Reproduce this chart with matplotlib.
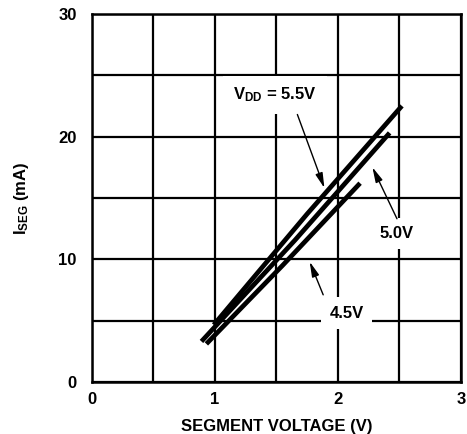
import matplotlib
matplotlib.use("Agg")
import matplotlib.pyplot as plt

plt.rcParams["font.family"] = "Liberation Sans"
plt.rcParams["font.weight"] = "bold"
plt.rcParams["axes.labelweight"] = "bold"
plt.rcParams["mathtext.fontset"] = "custom"
plt.rcParams["mathtext.rm"] = "Liberation Sans:bold"
plt.rcParams["mathtext.default"] = "rm"

# curves (segment voltage V, segment current mA)
v55_x = [0.99, 1.75, 2.52]
v55_y = [4.65, 13.7, 22.5]
v50_x = [0.89, 1.65, 2.42]
v50_y = [3.3, 11.55, 20.3]
v45_x = [0.93, 1.55, 2.18]
v45_y = [3.1, 9.5, 16.2]

x_ticks = [0, 0.5, 1, 1.5, 2, 2.5, 3]
x_labels = ["0", "", "1", "", "2", "", "3"]
y_ticks = [0, 5, 10, 15, 20, 25, 30]
y_labels = ["0", "", "10", "", "20", "", "30"]

fs = 12

fig = plt.figure(figsize=(4.67, 4.34), dpi=100)
ax = fig.add_axes([0.197, 0.12, 0.79, 0.848])

for xs, ys in [(v55_x, v55_y), (v50_x, v50_y), (v45_x, v45_y)]:
    ax.plot(xs, ys, color="black", lw=3.4, solid_capstyle="butt", zorder=3)

ax.set_xlim(0, 3)
ax.set_ylim(0, 30)
ax.set_xticks(x_ticks)
ax.set_xticklabels(x_labels)
ax.set_yticks(y_ticks)
ax.set_yticklabels(y_labels)
ax.tick_params(length=0, labelsize=fs, pad=7)
ax.tick_params(axis="y", pad=11)
ax.grid(True, color="black", lw=1.6)
ax.set_axisbelow(True)
for s in ax.spines.values():
    s.set_linewidth(1.8)

ax.set_xlabel("SEGMENT VOLTAGE (V)", fontsize=fs, labelpad=9)
ax.set_ylabel("I$_{SEG}$ (mA)", fontsize=fs, labelpad=20)

box = dict(facecolor="white", edgecolor="none", pad=6)
arrow = dict(arrowstyle="-|>,head_length=0.9,head_width=0.22", color="black",
             lw=1.0, shrinkA=0, shrinkB=0)

ax.text(1.49, 23.4, "V$_{DD}$ = 5.5V", fontsize=fs, ha="center",
        va="center", bbox=dict(facecolor="white", edgecolor="none",
                               boxstyle="square,pad=0.6"), zorder=4)
ax.annotate("", xy=(1.89, 15.8), xytext=(1.67, 21.8), arrowprops=arrow,
            zorder=4)

ax.text(2.48, 12.1, "5.0V", fontsize=fs, ha="center", va="center",
        bbox=box, zorder=4)
ax.annotate("", xy=(2.28, 17.5), xytext=(2.48, 13.3), arrowprops=arrow,
            zorder=4)

ax.text(2.07, 5.6, "4.5V", fontsize=fs, ha="center", va="center",
        bbox=box, zorder=4)
ax.annotate("", xy=(1.77, 9.8), xytext=(1.88, 7.1), arrowprops=arrow,
            zorder=4)

fig.savefig("out.png", dpi=100)
